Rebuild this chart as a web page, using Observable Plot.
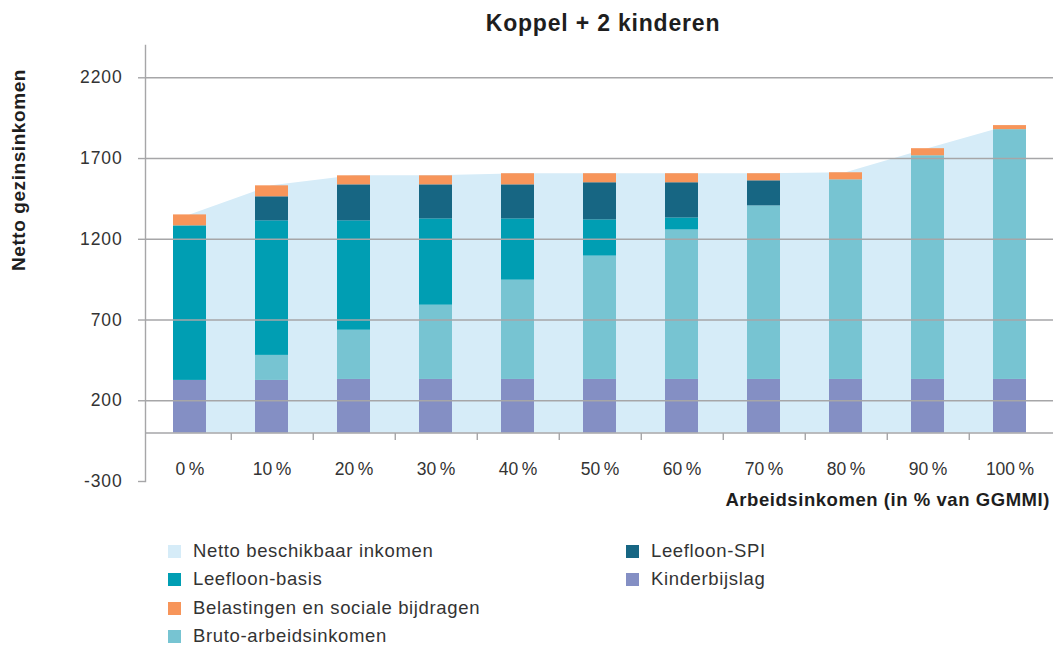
<!DOCTYPE html>
<html>
<head>
<meta charset="utf-8">
<script src="https://cdn.jsdelivr.net/npm/d3@7"></script>
<script src="https://cdn.jsdelivr.net/npm/@observablehq/plot@0.6"></script>
<style>
  html, body { margin: 0; padding: 0; background: #fff; }
  body { font-family: "Liberation Sans", Arial, Helvetica, sans-serif; }
  #wrap { position: relative; width: 1053px; height: 647px; overflow: hidden; }
  #chart { position: absolute; left: 0; top: 0; }
  .title { position: absolute; left: 403px; width: 400px; top: 8px; text-align: center;
           font-weight: bold; font-size: 23px; letter-spacing: 0.035em; color: #1e1e1e; line-height: 30px; }
  .ylab { position: absolute; left: 19px; top: 170px; transform: translate(-50%, -50%) rotate(-90deg);
          white-space: nowrap; font-weight: bold; font-size: 19px; letter-spacing: 0.03em; color: #1e1e1e; }
  .xlab { position: absolute; right: 3px; top: 488px; white-space: nowrap; font-weight: bold;
          font-size: 18.5px; letter-spacing: 0.03em; color: #1e1e1e; line-height: 24px; }
  .leg { position: absolute; white-space: nowrap; font-size: 18.5px; letter-spacing: 0.035em; color: #333;
         line-height: 22px; height: 22px; }
  .leg .sw { position: absolute; left: 0; top: 4px; width: 13px; height: 13px; }
  .leg .tx { position: absolute; left: 25px; top: -1px; }
</style>
</head>
<body>
<div id="wrap">
  <div id="chart"></div>
  <div class="title">Koppel + 2 kinderen</div>
  <div class="ylab">Netto gezinsinkomen</div>
  <div class="xlab">Arbeidsinkomen (in % van GGMMI)</div>
  <div id="legend"></div>
</div>
<script>
// ---- data ----
const categories = ["0\u202F%", "10\u202F%", "20\u202F%", "30\u202F%", "40\u202F%", "50\u202F%", "60\u202F%", "70\u202F%", "80\u202F%", "90\u202F%", "100\u202F%"];
const kinderbijslag = [326, 326, 332, 332, 332, 332, 332, 332, 332, 332, 332];
const brutoArbeidsinkomen = [0, 155, 305, 460, 615, 764, 926, 1075, 1236, 1385, 1547];
const leefloonBasis = [957, 833, 677, 534, 379, 224, 74, 0, 0, 0, 0];
const leefloonSPI = [0, 149, 223, 211, 211, 230, 218, 155, 0, 0, 0];
const belastingen = [68, 68, 56, 56, 69, 56, 56, 44, 44, 44, 25];
const nettoBeschikbaar = [1351, 1531, 1593, 1593, 1606, 1606, 1606, 1606, 1612, 1761, 1904];
const yTicks = [-300, 200, 700, 1200, 1700, 2200];
const gridTicks = [200, 700, 1200, 1700, 2200];

// stacking order bottom -> top
const seriesNames = ["Kinderbijslag", "Bruto-arbeidsinkomen", "Leefloon-basis", "Leefloon-SPI", "Belastingen en sociale bijdragen"];
const seriesValues = [kinderbijslag, brutoArbeidsinkomen, leefloonBasis, leefloonSPI, belastingen];
const seriesColors = ["#848fc4", "#77c4d2", "#009eb3", "#176683", "#f7955a"];
const areaColor = "#d6ecf8";
const gridColor = "#a6a6a8";

const rows = seriesNames.flatMap((s, k) => seriesValues[k].map((v, i) => ({cat: categories[i], series: s, value: v})));
const netRows = categories.map((c, i) => ({cat: c, net: nettoBeschikbaar[i]}));

const W = 1053, ML = 145, MR = 0;
const step = (W - ML - MR) / categories.length;

const chart = Plot.plot({
  width: W, height: 520,
  marginTop: 45, marginBottom: 39, marginLeft: ML, marginRight: MR,
  style: {fontFamily: "'Liberation Sans', Arial, sans-serif", fontSize: "17.5px", letterSpacing: "0.05em", color: "#333", background: "transparent", overflow: "visible"},
  x: {type: "band", domain: categories, paddingInner: 0.6, paddingOuter: 0.3, axis: null},
  y: {domain: [-300, 2400], axis: null},
  color: {domain: seriesNames, range: seriesColors},
  marks: [
    Plot.areaY(netRows, {x: "cat", y: "net", fill: areaColor, curve: "linear"}),
    Plot.barY(rows, {x: "cat", y: "value", fill: "series", order: seriesNames}),
    Plot.gridY(gridTicks, {stroke: gridColor, strokeOpacity: 1, strokeWidth: 1.4}),
    Plot.ruleY([0], {stroke: gridColor, strokeWidth: 1.4}),
    Plot.frame({anchor: "left", stroke: gridColor, strokeWidth: 1.4}),
    Plot.axisY(yTicks, {tickSize: 7, tickPadding: 16, stroke: gridColor, strokeWidth: 1.4, fill: "#333", tickFormat: d => String(d), label: null}),
    Plot.axisX({tickSize: 0, tickPadding: 0, dy: -19, fill: "#333", label: null}),
    Plot.axisX(categories.slice(0, -1), {tickSize: 7, dx: step / 2, dy: -48, stroke: gridColor, strokeWidth: 1.4, tickFormat: () => "", label: null})
  ]
});
document.getElementById("chart").appendChild(chart);

// ---- legend ----
const legendItems = [
  {label: "Netto beschikbaar inkomen", color: areaColor, x: 168, y: 541},
  {label: "Leefloon-basis", color: "#009eb3", x: 168, y: 569},
  {label: "Belastingen en sociale bijdragen", color: "#f7955a", x: 168, y: 598},
  {label: "Bruto-arbeidsinkomen", color: "#77c4d2", x: 168, y: 626},
  {label: "Leefloon-SPI", color: "#176683", x: 626, y: 541},
  {label: "Kinderbijslag", color: "#848fc4", x: 626, y: 569}
];
const legend = document.getElementById("legend");
for (const it of legendItems) {
  const d = document.createElement("div");
  d.className = "leg";
  d.style.left = it.x + "px";
  d.style.top = it.y + "px";
  d.innerHTML = `<span class="sw" style="background:${it.color}"></span><span class="tx"></span>`;
  d.querySelector(".tx").textContent = it.label;
  legend.appendChild(d);
}
</script>
</body>
</html>
